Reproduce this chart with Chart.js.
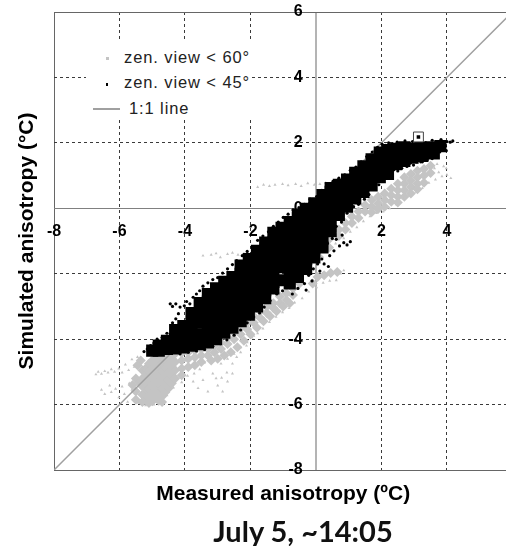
<!DOCTYPE html>
<html>
<head>
<meta charset="utf-8">
<script src="https://cdn.jsdelivr.net/npm/chart.js@4"></script>
<style>
  body { margin: 0; background: #fff; }
  #wrap { position: relative; width: 506px; height: 546px; overflow: hidden; }
  #legendBox { position: absolute; left: 86px; top: 42px; width: 166px; height: 78px; background: #fff;
    font: 16.5px "Liberation Sans", sans-serif; letter-spacing: 0.9px; color: #222; }
  #legendBox span { position: absolute; white-space: nowrap; }
  #legendBox i { position: absolute; display: block; }
  #dateLabel { position: absolute; left: 0; width: 606px; top: 513px; text-align: center;
    font: bold 29px Lato, sans-serif; color: #111; }
</style>
</head>
<body>
<div id="wrap">
  <!-- the plot runs past the right edge of the picture, x = 6 is cut off -->
  <canvas id="chart" width="521" height="546"></canvas>
  <div id="legendBox">
    <i style="left:20px;top:15px;width:3px;height:3px;background:#c4c4c4"></i>
    <span style="left:38px;top:6px">zen. view &lt; 60°</span>
    <i style="left:20px;top:41px;width:2px;height:3px;background:#000"></i>
    <span style="left:38px;top:31px">zen. view &lt; 45°</span>
    <i style="left:7px;top:66px;width:27px;height:2px;background:#a0a0a0"></i>
    <span style="left:43px;top:57px">1:1 line</span>
  </div>
  <div id="dateLabel">July 5, ~14:05</div>
</div>
<script>
// AXIS TEXT
const xTitle = "Measured anisotropy (ºC)";
const yTitle = "Simulated anisotropy (°C)";

// 1:1 LINE
const oneToOne = [[-8, -8], [6, 6]];

// BOXED POINT
const boxedPoint = [[3.13, 2.18]];

// ZEN. VIEW < 45 (dense part of the cloud, read column by column)
const black45Core = [
  [-5.0,-4.35],
  [-4.8,-4.35],[-4.8,-4.2],
  [-4.55,-4.3],[-4.55,-4.05],
  [-4.3,-4.28],[-4.3,-4.0],[-4.3,-3.72],
  [-4.05,-4.25],[-4.05,-3.95],[-4.05,-3.6],
  [-3.8,-4.2],[-3.8,-3.9],[-3.8,-3.55],[-3.8,-3.2],
  [-3.55,-4.15],[-3.55,-3.85],[-3.55,-3.5],[-3.55,-3.2],[-3.55,-2.9],
  [-3.3,-4.1],[-3.3,-3.8],[-3.3,-3.5],[-3.3,-3.15],[-3.3,-2.85],[-3.3,-2.62],
  [-3.05,-4.0],[-3.05,-3.7],[-3.05,-3.4],[-3.05,-3.05],[-3.05,-2.75],[-3.05,-2.45],
  [-2.8,-3.8],[-2.8,-3.5],[-2.8,-3.2],[-2.8,-2.9],[-2.8,-2.55],[-2.8,-2.25],
  [-2.55,-3.65],[-2.55,-3.4],[-2.55,-3.1],[-2.55,-2.8],[-2.55,-2.45],[-2.55,-2.1],
  [-2.3,-3.45],[-2.3,-3.2],[-2.3,-2.9],[-2.3,-2.6],[-2.3,-2.3],[-2.3,-2.0],[-2.3,-1.75],
  [-2.05,-3.25],[-2.05,-3.0],[-2.05,-2.7],[-2.05,-2.4],[-2.05,-2.1],[-2.05,-1.8],[-2.05,-1.55],
  [-1.8,-3.0],[-1.8,-2.75],[-1.8,-2.45],[-1.8,-2.15],[-1.8,-1.85],[-1.8,-1.55],[-1.8,-1.3],
  [-1.55,-2.75],[-1.55,-2.5],[-1.55,-2.2],[-1.55,-1.9],[-1.55,-1.6],[-1.55,-1.3],[-1.55,-1.05],
  [-1.3,-2.45],[-1.3,-2.25],[-1.3,-1.95],[-1.3,-1.65],[-1.3,-1.35],[-1.3,-1.05],[-1.3,-0.75],
  [-1.05,-2.2],[-1.05,-1.8],[-1.05,-1.5],[-1.05,-1.2],[-1.05,-0.9],[-1.05,-0.6],
  [-0.8,-2.3],[-0.8,-1.95],[-0.8,-1.65],[-0.8,-1.35],[-0.8,-1.05],[-0.8,-0.75],[-0.8,-0.42],
  [-0.55,-2.1],[-0.55,-1.85],[-0.55,-1.5],[-0.55,-1.2],[-0.55,-0.9],[-0.55,-0.6],[-0.55,-0.3],[-0.55,-0.2],
  [-0.3,-1.85],[-0.3,-1.55],[-0.3,-1.2],[-0.3,-0.9],[-0.3,-0.6],[-0.3,-0.3],[-0.3,-0.02],
  [-0.05,-1.5],[-0.05,-1.2],[-0.05,-0.9],[-0.05,-0.6],[-0.05,-0.3],[-0.05,0.0],[-0.05,0.15],
  [0.2,-1.2],[0.2,-0.9],[0.2,-0.6],[0.2,-0.35],[0.2,-0.05],[0.2,0.2],[0.2,0.4],
  [0.45,-0.7],[0.45,-0.4],[0.45,-0.1],[0.45,0.2],[0.45,0.5],[0.45,0.62],
  [0.7,-0.2],[0.7,0.1],[0.7,0.4],[0.7,0.72],
  [0.95,0.05],[0.95,0.3],[0.95,0.6],[0.95,0.88],
  [1.2,0.3],[1.2,0.55],[1.2,0.85],[1.2,1.08],
  [1.45,0.5],[1.45,0.75],[1.45,1.05],[1.45,1.28],
  [1.7,0.7],[1.7,0.95],[1.7,1.25],[1.7,1.5],
  [1.95,0.95],[1.95,1.2],[1.95,1.5],[1.95,1.7],
  [2.2,1.05],[2.2,1.3],[2.2,1.55],[2.2,1.78],
  [2.45,1.35],[2.45,1.6],[2.45,1.82],
  [2.7,1.45],[2.7,1.7],[2.7,1.86],
  [2.95,1.55],[2.95,1.82],[3.2,1.85],[3.25,1.6],[3.5,1.86],[3.6,1.68],[3.8,1.9]
];

// ZEN. VIEW < 45 (jagged edges and loose specks)
const black45Specks = [
  [-5.25,-4.38],[-5.15,-4.3],[-5.05,-4.2],[-4.95,-4.12],[-4.85,-4.0],[-4.7,-3.95],[-4.55,-3.82],[-4.42,-3.72],
  [-4.38,-3.5],[-4.28,-3.38],[-4.2,-3.22],[-4.45,-2.92],[-4.38,-3.0],[-4.28,-2.92],[-4.15,-3.02],[-4.02,-2.98],
  [-3.95,-2.85],[-3.85,-2.92],[-3.75,-2.72],[-3.65,-2.62],[-3.55,-2.52],[-3.45,-2.38],[-3.3,-2.28],[-3.15,-2.18],
  [-3.0,-2.12],[-2.85,-1.98],[-2.7,-1.85],[-2.55,-1.72],[-2.42,-1.6],[-2.25,-1.45],[-2.1,-1.32],[-1.95,-1.18],
  [-1.78,-0.98],[-1.62,-0.85],[-1.45,-0.72],[-1.3,-0.55],[-1.15,-0.42],[-1.0,-0.28],[-0.85,-0.18],[-0.7,-0.05],
  [-0.52,0.02],[-0.35,0.12],[-0.18,0.28],[0.02,0.36],[0.18,0.55],[0.34,0.68],[0.52,0.82],[0.7,0.92],
  [0.88,1.02],[1.05,1.16],[1.22,1.26],[1.38,1.42],[1.55,1.58],[1.72,1.72],[1.88,1.86],[2.02,1.96],
  [2.12,1.92],[2.22,2.0],[2.35,1.96],[2.48,2.02],[2.6,1.96],[2.72,2.06],[2.85,1.98],[2.95,2.04],
  [3.05,1.96],[3.15,1.88],[3.22,1.76],[3.35,2.0],[3.45,1.92],[3.55,2.08],[3.62,1.96],[3.72,2.02],
  [3.82,2.1],[3.9,1.98],[4.0,2.04],[4.1,2.02],[4.18,2.06],[3.95,1.9],[3.85,1.82],[3.72,1.88],
  [3.58,1.82],[3.48,1.72],[3.35,1.84],[3.25,1.42],[3.1,1.7],[2.98,1.32],[2.88,1.38],[2.78,1.28],
  [2.92,1.42],[3.08,1.42],[3.2,1.42],[3.4,1.48],[3.55,1.52],[3.78,1.72],[3.98,1.76],[2.62,1.22],
  [2.5,1.14],[2.38,1.18],[2.28,0.95],[2.15,0.92],[2.05,0.85],[1.92,0.72],[1.8,0.62],[1.62,0.42],
  [1.48,0.28],[1.3,0.12],[1.15,0.05],[0.95,-0.15],[0.78,-0.42],[0.62,-0.55],[0.5,-0.92],[0.35,-1.08],
  [1.05,-1.02],[0.95,-1.12],[0.85,-1.05],[0.72,-1.15],[0.55,-1.3],[0.42,-1.45],[0.3,-1.25],[0.18,-1.55],
  [0.05,-1.7],[-0.08,-1.85],[0.12,-1.92],[-0.22,-2.05],[-0.12,-2.22],[-0.35,-2.3],[-0.55,-2.45],[-0.72,-2.62],
  [-1.02,-2.52],[-1.2,-2.62],[-1.4,-2.82],[-1.58,-3.02],[-1.72,-3.2],[-1.9,-3.32],[-2.1,-3.5],[-2.3,-3.72],
  [-2.5,-3.88],[-2.72,-4.02],[-2.92,-4.14],[-3.15,-4.22],[-3.4,-4.32],[-3.65,-4.36],[-3.9,-4.4],[-4.15,-4.45],
  [-0.42,-1.98],[-0.3,-2.5],[-0.5,-2.2],[0.25,-1.7],[0.38,-1.78],[0.62,-0.95],[0.8,-0.82]
];

// ZEN. VIEW < 60 (dense part of the cloud)
const gray60Core = [
  [-5.6,-5.4],[-5.5,-5.2],[-5.45,-4.8],[-5.35,-4.65],[-5.3,-4.95],
  [-5.5,-5.6],[-5.5,-5.85],
  [-5.4,-5.32],[-5.2,-4.9],[-5.2,-5.12],[-5.2,-5.38],[-5.2,-5.62],[-5.2,-5.84],
  [-5.3,-5.2],[-5.3,-5.45],[-5.3,-5.7],[-5.3,-5.92],
  [-5.1,-4.75],[-5.1,-5.0],[-5.1,-5.25],[-5.1,-5.5],[-5.1,-5.75],[-5.1,-5.95],
  [-5.0,-4.65],[-5.0,-4.92],[-5.0,-5.18],[-5.0,-5.42],[-5.0,-5.68],[-5.0,-5.9],
  [-4.9,-4.55],[-4.9,-4.8],[-4.9,-5.05],[-4.9,-5.3],[-4.9,-5.55],[-4.9,-5.8],
  [-4.8,-4.62],[-4.8,-4.88],[-4.8,-5.12],[-4.8,-5.38],[-4.8,-5.62],[-4.8,-5.88],
  [-4.7,-4.5],[-4.7,-4.75],[-4.7,-5.0],[-4.7,-5.25],[-4.7,-5.5],[-4.7,-5.75],[-4.7,-5.92],
  [-4.6,-4.62],[-4.6,-4.88],[-4.6,-5.12],[-4.6,-5.38],[-4.6,-5.62],
  [-4.5,-4.5],[-4.5,-4.75],[-4.5,-5.0],[-4.5,-5.25],[-4.5,-5.5],
  [-4.4,-4.6],[-4.4,-4.85],[-4.4,-5.1],[-4.4,-5.35],
  [-4.3,-4.45],[-4.3,-4.7],[-4.3,-4.95],[-4.3,-5.2],
  [-4.1,-4.42],[-4.1,-4.65],[-4.1,-4.9],[-4.1,-5.1],
  [-3.9,-4.4],[-3.9,-4.6],[-3.9,-4.85],
  [-3.7,-4.35],[-3.7,-4.55],[-3.7,-4.8],
  [-3.5,-4.3],[-3.5,-4.5],[-3.5,-4.7],
  [-3.3,-4.3],[-3.3,-4.5],[-3.2,-4.65],
  [-3.1,-4.2],[-3.1,-4.4],[-3.0,-4.6],
  [-2.9,-4.1],[-2.9,-4.3],[-2.8,-4.5],
  [-2.7,-3.95],[-2.7,-4.15],[-2.6,-4.4],
  [-2.5,-3.8],[-2.5,-4.0],[-2.4,-4.25],
  [-2.3,-3.65],[-2.3,-3.85],[-2.2,-4.05],
  [-2.1,-3.5],[-2.1,-3.7],[-2.0,-3.85],
  [-1.9,-3.3],[-1.9,-3.5],[-1.8,-3.65],
  [-1.7,-3.15],[-1.7,-3.35],[-1.6,-3.45],
  [-1.5,-3.0],[-1.5,-3.2],[-1.4,-3.3],
  [-1.3,-2.9],[-1.3,-3.05],[-1.2,-3.15],
  [-1.1,-2.7],[-1.1,-2.9],[-1.0,-3.0],
  [-0.9,-2.6],[-0.9,-2.8],[-0.8,-2.9],
  [-0.7,-2.45],[-0.7,-2.65],
  [-0.5,-2.3],[-0.3,-1.9],[-0.1,-2.3],[0.05,-2.1],[0.25,-2.05],[0.45,-1.98],[0.65,-1.95],
  [-0.3,-1.6],[0.1,-1.5],[0.1,-1.2],[0.4,-0.95],[0.4,-1.2],
  [0.7,-0.65],[0.7,-0.85],[0.9,-0.45],[0.9,-0.65],
  [1.1,-0.25],[1.1,-0.45],[1.3,-0.1],[1.3,-0.3],
  [1.5,0.1],[1.5,-0.1],[1.7,0.25],[1.7,0.05],[1.7,-0.12],
  [1.9,0.35],[1.9,0.15],[1.9,-0.02],[2.1,0.45],[2.1,0.25],[2.1,0.05],
  [2.3,0.6],[2.3,0.4],[2.3,0.2],
  [2.5,0.75],[2.5,0.55],[2.5,0.35],[2.5,0.18],
  [2.7,0.95],[2.7,0.75],[2.7,0.55],[2.7,0.35],
  [2.9,1.05],[2.9,0.85],[2.9,0.65],[2.9,0.45],
  [3.1,1.15],[3.1,0.95],[3.1,0.75],[3.1,0.58],
  [3.3,1.2],[3.3,1.0],[3.3,0.78],
  [3.5,1.3],[3.5,1.08]
];

// ZEN. VIEW < 60 (loose points)
const gray60Specks = [
  [-6.72,-5.08],[-6.65,-5.0],[-6.55,-5.06],[-6.45,-4.98],[-6.35,-5.02],[-6.25,-4.92],[-6.15,-5.0],[-6.02,-4.9],
  [-5.92,-5.02],[-5.82,-4.78],[-5.72,-4.95],[-5.62,-4.62],[-5.55,-4.85],[-5.45,-4.55],[-5.35,-4.72],[-5.25,-4.95],
  [-6.55,-5.55],[-6.45,-5.68],[-6.3,-5.42],[-6.25,-5.62],[-6.12,-5.52],[-6.02,-5.78],[-5.92,-5.45],[-5.85,-5.68],
  [-5.75,-5.92],[-5.7,-5.35],[-5.62,-5.55],[-5.55,-5.2],[-5.45,-5.35],[-5.42,-5.95],[-5.2,-6.02],[-4.95,-6.0],
  [-4.55,-5.72],[-4.35,-5.48],[-4.1,-5.32],[-3.92,-5.12],[-3.72,-5.05],[-3.55,-4.92],[-3.4,-4.72],[-3.22,-4.68],
  [-3.75,-5.3],[-3.6,-5.5],[-3.45,-5.25],[-3.3,-5.6],[-3.15,-5.05],[-3.0,-5.42],[-2.85,-5.6],[-2.7,-5.3],[-2.55,-5.05],
  [-3.05,-5.2],[-2.88,-5.18],[-2.72,-5.02],[-2.55,-4.75],[-2.42,-4.55],[-2.3,-4.4],[-2.12,-4.2],[-1.95,-3.95],
  [-2.9,-4.75],[-2.7,-4.6],[-2.5,-4.45],[-2.3,-4.25],[-2.1,-4.1],[-1.9,-3.9],
  [-1.78,-3.82],[-1.62,-3.68],[-1.42,-3.48],[-1.22,-3.32],[-1.02,-3.18],[-0.82,-3.05],[-0.65,-2.88],[-0.42,-2.75],
  [-0.22,-2.55],[0.02,-2.42],[0.22,-2.28],[0.42,-2.22],[0.62,-2.2],[0.75,-2.0],[0.85,-1.9],
  [-3.45,-1.45],[-3.2,-1.42],[-3.05,-1.38],[-2.92,-1.5],[-2.7,-1.4],[-2.55,-1.36],[-2.38,-1.42],[-2.2,-1.38],
  [-1.78,0.65],[-1.6,0.72],[-1.42,0.68],[-1.25,0.72],[-1.02,0.74],[-0.85,0.7],[-0.62,0.74],[-0.45,0.68],
  [-0.25,0.76],[-0.05,0.72],[0.12,0.74],[0.3,0.78],
  [0.6,-1.08],[0.85,-0.92],[1.05,-0.72],[1.25,-0.58],[1.45,-0.4],[1.65,-0.25],[1.85,-0.15],[2.05,-0.1],
  [2.25,0.0],[2.45,0.12],[2.65,0.3],[2.85,0.4],[3.05,0.5],[3.25,0.62],[3.45,0.78],[3.65,0.88],
  [3.85,0.98],[4.0,1.02],[4.12,0.92],[3.75,1.1],[3.9,1.28],[3.98,1.22],[3.62,1.22],[3.48,1.05],[3.7,1.35]
];

function toPoints(list) {
  return list.map(p => ({ x: p[0], y: p[1] }));
}

// grid lines: frame and zero lines solid, the rest dashed
function gridDash(ctx) {
  const v = ctx.tick ? ctx.tick.value : null;
  return v === -8 || v === 0 || v === 6 ? [] : [3, 3];
}
function xGridColor(ctx) {
  if (!ctx.tick) return "#3a3a3a";
  if (ctx.tick.value === 0) return "#b4b4b4";
  return ctx.tick.value === -8 ? "#666" : "#3a3a3a";
}
function yGridColor(ctx) {
  if (!ctx.tick) return "#3a3a3a";
  if (ctx.tick.value === 0) return "#808080";
  return ctx.tick.value === -8 || ctx.tick.value === 6 ? "#666" : "#3a3a3a";
}
function xGridWidth(ctx) {
  return ctx.tick && ctx.tick.value === 0 ? 2 : 1;
}

const tickFont = { family: "Liberation Sans", size: 16, weight: "bold" };
const titleFont = { family: "Liberation Sans", size: 21, weight: "bold" };

new Chart(document.getElementById("chart"), {
  type: "scatter",
  data: {
    datasets: [
      { label: "boxed dot", data: toPoints(boxedPoint), pointStyle: "rect", pointRadius: 2.5, backgroundColor: "#000", borderWidth: 0 },
      { label: "boxed frame", data: toPoints(boxedPoint), pointStyle: "rect", pointRadius: 7, backgroundColor: "#fff", borderColor: "#444", borderWidth: 1 },
      { label: "zen. view < 45°", data: toPoints(black45Specks), pointRadius: 1.6, backgroundColor: "#000", borderWidth: 0 },
      { label: "zen. view < 45° core", data: toPoints(black45Core), pointStyle: "rect", pointRadius: 8.6, backgroundColor: "#000", borderWidth: 0 },
      { label: "1:1 line", data: toPoints(oneToOne), showLine: true, pointRadius: 0, borderColor: "#a0a0a0", borderWidth: 1.5 },
      { label: "zen. view < 60°", data: toPoints(gray60Specks), pointStyle: "triangle", pointRadius: 1.8, backgroundColor: "#c4c4c4", borderWidth: 0 },
      { label: "zen. view < 60° core", data: toPoints(gray60Core), pointStyle: "rectRot", pointRadius: 5, backgroundColor: "#c4c4c4", borderWidth: 0 }
    ]
  },
  options: {
    responsive: false,
    animation: false,
    layout: { padding: { top: 12, bottom: 39.4, left: 0, right: 0 } },
    plugins: {
      legend: { display: false },
      tooltip: { enabled: false },
      title: {
        display: true, text: yTitle, position: "left", fullSize: false, color: "#000",
        font: titleFont,
        padding: { top: 14.6, bottom: 14.2 }
      },
      subtitle: {
        display: true, text: xTitle, position: "bottom", fullSize: false, color: "#000",
        font: titleFont,
        padding: { top: 11.4, bottom: 0 }
      }
    },
    scales: {
      x: {
        type: "linear",
        position: { y: 0 },
        min: -8,
        max: 6,
        // labels hang past the frame, keep the plot size anyway
        afterFit: s => { s.paddingLeft = 0; s.paddingRight = 0; },
        grid: { color: xGridColor, lineWidth: xGridWidth, drawTicks: false },
        border: { display: false, dash: gridDash },
        ticks: { stepSize: 2, includeBounds: false, autoSkip: false, maxRotation: 0, padding: 14, color: "#000", font: tickFont }
      },
      y: {
        type: "linear",
        position: { x: 0 },
        min: -8,
        max: 6,
        afterFit: s => { s.paddingTop = 0; s.paddingBottom = 0; },
        grid: { color: yGridColor, lineWidth: 1, drawTicks: false },
        border: { display: false, dash: gridDash },
        ticks: {
          stepSize: 2, includeBounds: false, autoSkip: false, color: "#000", font: tickFont,
          // centered axis ignores ticks.padding, push the text off the line
          callback: v => v + "\u00a0\u00a0\u00a0"
        }
      }
    }
  }
});
</script>
</body>
</html>
